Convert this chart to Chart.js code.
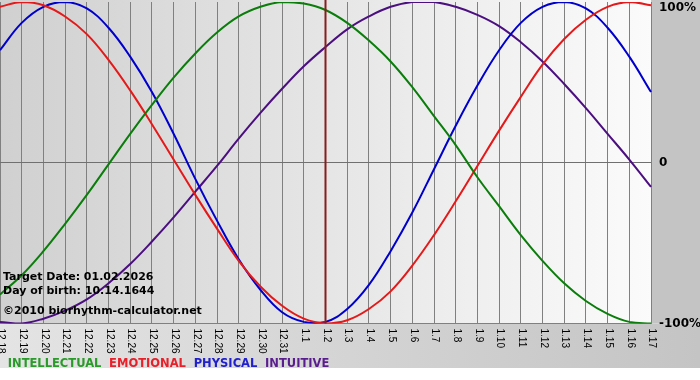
<!DOCTYPE html>
<html>
<head>
<meta charset="utf-8">
<script src="https://cdn.jsdelivr.net/npm/chart.js@4/dist/chart.umd.min.js"></script>
<style>
html,body{margin:0;padding:0;background:#fff;}
#wrap{width:700px;height:380px;position:relative;}
</style>
</head>
<body>
<div id="wrap"><canvas id="c" width="700" height="380"></canvas></div>
<script>
const dates = ['12.18','12.19','12.20','12.21','12.22','12.23','12.24','12.25','12.26','12.27','12.28','12.29','12.30','12.31',
  '1.1','1.2','1.3','1.4','1.5','1.6','1.7','1.8','1.9','1.10','1.11','1.12','1.13','1.14','1.15','1.16','1.17'];
const targetDate = '1.2';

const intellectual = [-0.82,-0.70,-0.55,-0.38,-0.20,-0.01,0.18,0.36,0.53,0.68,0.81,0.91,0.97,1.00,0.99,0.95,0.87,0.76,0.63,0.47,0.29,0.11,-0.09,-0.27,-0.45,-0.61,-0.75,-0.86,-0.94,-0.99,-1.00];
const emotional    = [0.97,1.00,0.98,0.91,0.80,0.64,0.45,0.24,0.02,-0.20,-0.41,-0.61,-0.77,-0.89,-0.97,-1.00,-0.98,-0.91,-0.80,-0.64,-0.45,-0.24,-0.02,0.20,0.41,0.61,0.77,0.89,0.97,1.00,0.98];
const physical     = [0.70,0.87,0.97,1.00,0.96,0.84,0.66,0.44,0.18,-0.10,-0.36,-0.60,-0.79,-0.93,-0.99,-0.99,-0.91,-0.76,-0.55,-0.31,-0.04,0.23,0.48,0.70,0.87,0.97,1.00,0.96,0.84,0.66,0.44];
const intuitive    = [-0.99,-1.00,-0.97,-0.92,-0.85,-0.75,-0.63,-0.49,-0.34,-0.18,-0.02,0.15,0.31,0.46,0.60,0.72,0.83,0.91,0.97,1.00,1.00,0.97,0.92,0.85,0.75,0.63,0.49,0.34,0.18,0.02,-0.15];

const seriesNames  = ['INTELLECTUAL','EMOTIONAL','PHYSICAL','INTUITIVE'];
const lineColors   = ['#0b7d0b','#e41a1a','#0000cc','#4b0f7f'];
const legendColors = ['#2a9a2a','#e8202a','#2020cc','#5a1d8e'];
const yTickValues  = [-1, 0, 1];
const yTickLabels  = ['-100%','0','100%'];
const infoLines    = ['Target Date: 01.02.2026','Day of birth: 10.14.1644','\u00a92010 biorhythm-calculator.net'];

const bgPlugin = {
  id: 'bg',
  beforeDraw(chart) {
    const ctx = chart.ctx, a = chart.chartArea, W = chart.width, H = chart.height;
    ctx.save();
    ctx.fillStyle = '#ffffff';
    ctx.fillRect(0, 0, W, H);
    ctx.fillStyle = '#c4c4c4';
    ctx.fillRect(a.right, 0, W - a.right, a.bottom);
    const gb = ctx.createLinearGradient(0, 0, W, 0);
    gb.addColorStop(0, '#e4e4e4');
    gb.addColorStop(1, '#c4c4c4');
    ctx.fillStyle = gb;
    ctx.fillRect(0, a.bottom, W, 368 - a.bottom);
    const gp = ctx.createLinearGradient(a.left, 0, a.right, 0);
    gp.addColorStop(0, '#d0d0d0');
    gp.addColorStop(1, '#fbfbfb');
    ctx.fillStyle = gp;
    ctx.fillRect(0, 0, a.right, a.bottom);
    ctx.restore();
  },
  afterDatasetsDraw(chart) {
    const ctx = chart.ctx, a = chart.chartArea, xs = chart.scales.x;
    ctx.save();
    const tx = xs.getPixelForValue(dates.indexOf(targetDate));
    ctx.strokeStyle = '#8a1c1c';
    ctx.lineWidth = 2;
    ctx.beginPath();
    ctx.moveTo(tx, 0);
    ctx.lineTo(tx, a.bottom);
    ctx.stroke();
    ctx.fillStyle = '#000';
    ctx.font = 'bold 11px "DejaVu Sans"';
    ctx.textAlign = 'left';
    ctx.textBaseline = 'alphabetic';
    ctx.fillText(infoLines[0], 3, a.bottom - 44);
    ctx.fillText(infoLines[1], 3, a.bottom - 30);
    ctx.fillText(infoLines[2], 3, a.bottom - 10);
    ctx.restore();
  },
  afterDraw(chart) {
    const ctx = chart.ctx, xs = chart.scales.x;
    ctx.save();
    ctx.fillStyle = '#000';
    ctx.font = '10px "Liberation Sans"';
    ctx.textAlign = 'left';
    ctx.textBaseline = 'middle';
    xs.ticks.forEach((t, i) => {
      const x = xs.getPixelForTick(i);
      ctx.save();
      ctx.translate(x + 1, xs.top + 5);
      ctx.rotate(Math.PI / 2);
      ctx.fillText(dates[i], 0, 0);
      ctx.restore();
    });
    ctx.restore();
  }
};

const datasets = [intellectual, emotional, physical, intuitive].map((d, i) => ({
  label: seriesNames[i],
  data: d,
  borderColor: lineColors[i],
  backgroundColor: lineColors[i],
  borderWidth: 2,
  pointRadius: 0,
  tension: 0.4,
  fill: false
}));

new Chart(document.getElementById('c'), {
  type: 'line',
  data: { labels: dates, datasets },
  plugins: [bgPlugin],
  options: {
    responsive: false,
    animation: false,
    devicePixelRatio: 1,
    layout: { padding: { top: 2, left: 0, right: 0, bottom: 0 } },
    plugins: {
      tooltip: { enabled: false },
      title: { display: false },
      legend: {
        display: true,
        position: 'bottom',
        align: 'start',
        onClick: null,
        labels: {
          boxWidth: 0,
          boxHeight: 0,
          padding: 2,
          font: { family: '"DejaVu Sans"', size: 11.5, weight: 'bold' },
          generateLabels: () => seriesNames.map((n, i) => ({
            text: n,
            fontColor: legendColors[i],
            fillStyle: 'rgba(0,0,0,0)',
            strokeStyle: 'rgba(0,0,0,0)',
            lineWidth: 0,
            hidden: false,
            datasetIndex: i
          }))
        }
      }
    },
    scales: {
      x: {
        type: 'category',
        offset: false,
        afterFit: (s) => { s.height = 33; s.paddingLeft = 0; s.paddingRight = 0; },
        grid: { color: '#808080', lineWidth: 1, drawTicks: false },
        border: { display: true, color: '#808080' },
        ticks: { display: false, autoSkip: false }
      },
      y: {
        position: 'right',
        min: -1,
        max: 1,
        afterFit: (s) => { s.width = 49; s.paddingTop = 0; s.paddingBottom = 0; },
        afterBuildTicks: (s) => { s.ticks = yTickValues.map(v => ({ value: v })); },
        grid: {
          drawTicks: false,
          color: (c) => (c.tick && c.tick.value === 1) ? 'rgba(0,0,0,0)' : '#707070',
          lineWidth: 1
        },
        border: { display: false },
        ticks: {
          padding: 8,
          color: '#000',
          font: { family: '"DejaVu Sans"', size: 12, weight: 'bold', lineHeight: 0.9 },
          callback: (v) => {
            const lab = yTickLabels[yTickValues.indexOf(v)];
            return v === 1 ? ['', lab] : lab;
          }
        }
      }
    }
  }
});
</script>
</body>
</html>
